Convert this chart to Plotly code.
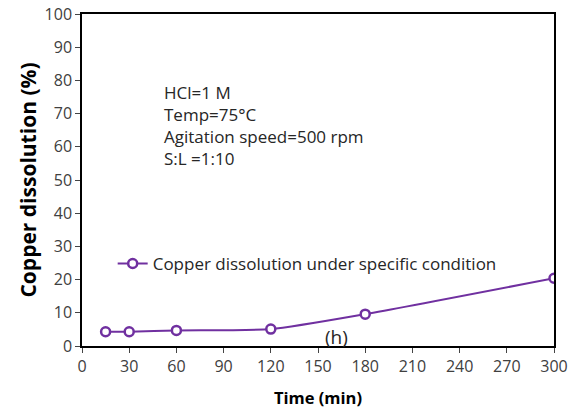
import plotly.graph_objects as go

time_min = [15, 30, 60, 120, 180, 300]
copper_pct = [4.3, 4.3, 4.7, 5.1, 9.6, 20.4]
x_ticks = [0, 30, 60, 90, 120, 150, 180, 210, 240, 270, 300]
y_ticks = [0, 10, 20, 30, 40, 50, 60, 70, 80, 90, 100]
series_name = "Copper dissolution under specific condition"
conditions = ["HCl=1 M", "Temp=75°C", "Agitation speed=500 rpm", "S:L =1:10"]

purple = "#7030A0"
font_family = "'Open Sans', sans-serif"

fig = go.Figure()
fig.add_trace(go.Scatter(
    x=time_min, y=copper_pct, name=series_name,
    mode="lines+markers",
    line=dict(color=purple, width=2, shape="spline", smoothing=0.6),
    marker=dict(symbol="circle", size=9, color="white", line=dict(color=purple, width=2.5)),
))

fig.update_layout(
    width=577, height=410,
    margin=dict(l=82, r=23, t=14, b=64),
    paper_bgcolor="white", plot_bgcolor="white",
    font=dict(family=font_family, size=16, color="#404040"),
    showlegend=True,
    legend=dict(x=0.065, y=0.247, xanchor="left", yanchor="middle",
                bgcolor="rgba(0,0,0,0)", font=dict(size=17, color="#262626"),
                itemwidth=30),
    xaxis=dict(range=[0, 300], tickvals=x_ticks, ticks="outside", ticklen=5,
               showline=True, linecolor="black", linewidth=1.5, mirror=True,
               showgrid=False, zeroline=False, automargin=False,
               tickfont=dict(size=16),
               title=dict(text="<b>Time (min)</b>", font=dict(size=16.5, color="#000000"), standoff=16)),
    yaxis=dict(range=[0, 100], tickvals=y_ticks, ticks="outside", ticklen=5,
               showline=True, linecolor="black", linewidth=1.5, mirror=True,
               showgrid=False, zeroline=False, automargin=False,
               tickfont=dict(size=16),
               title=dict(text="<b>Copper dissolution (%)</b>", font=dict(size=21, color="#000000"), standoff=2)),
)

fig.add_annotation(
    x=0.17, y=0.805, xref="paper", yref="paper", xanchor="left", yanchor="top",
    text="<br>".join(conditions), showarrow=False, align="left",
    font=dict(size=17, color="#262626"),
)
fig.add_annotation(
    x=162, y=2.6, xref="x", yref="y", text="(h)", showarrow=False,
    font=dict(size=19, color="#262626"),
)

fig.write_html("out.html")
